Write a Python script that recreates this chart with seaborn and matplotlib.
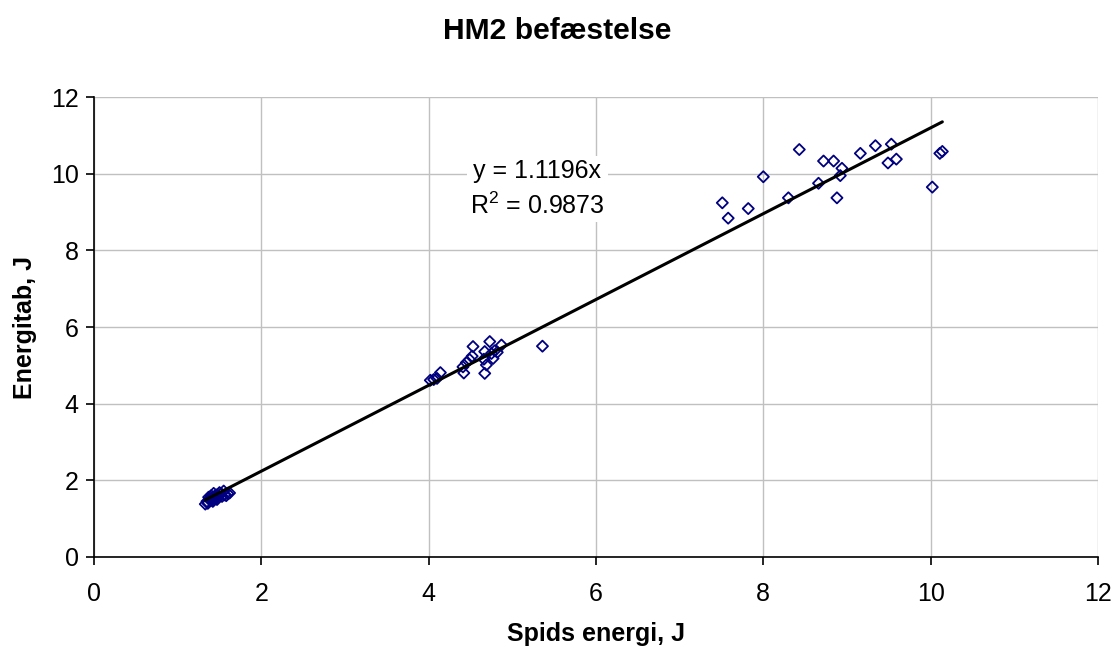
import matplotlib
matplotlib.use("Agg")
import matplotlib.pyplot as plt
import numpy as np
import pandas as pd
import seaborn as sns

sns.set_style("ticks")
plt.rcParams['font.family'] = ['Liberation Sans', 'DejaVu Sans']
plt.rcParams['text.color'] = 'black'
plt.rcParams['axes.labelcolor'] = 'black'
plt.rcParams['xtick.color'] = 'black'
plt.rcParams['ytick.color'] = 'black'
plt.rcParams['mathtext.fontset'] = 'custom'
plt.rcParams['mathtext.rm'] = 'Liberation Sans'

# Data (Spids energi, J vs Energitab, J)
x_low = [1.33, 1.35, 1.36, 1.38, 1.39, 1.40, 1.41, 1.42, 1.43, 1.44, 1.45, 1.46, 1.47,
         1.48, 1.50, 1.52, 1.53, 1.55, 1.56, 1.58, 1.60, 1.62, 1.37, 1.42, 1.47]
y_low = [1.38, 1.45, 1.40, 1.52, 1.47, 1.60, 1.55, 1.48, 1.66, 1.58, 1.52, 1.62, 1.55,
         1.60, 1.68, 1.65, 1.58, 1.72, 1.62, 1.60, 1.65, 1.67, 1.56, 1.45, 1.50]
x_mid = [4.02, 4.06, 4.10, 4.14, 4.42, 4.41, 4.45, 4.49, 4.52, 4.53, 4.67, 4.69, 4.66,
         4.67, 4.73, 4.75, 4.77, 4.79, 4.82, 4.87, 5.36]
y_mid = [4.61, 4.63, 4.66, 4.81, 4.80, 4.96, 5.07, 5.15, 5.24, 5.49, 4.79, 5.01, 5.16,
         5.36, 5.62, 5.31, 5.18, 5.38, 5.34, 5.53, 5.50]
x_high = [7.51, 7.58, 7.82, 8.00, 8.30, 8.43, 8.66, 8.72, 8.84, 8.88, 8.92, 8.94, 9.16,
          9.34, 9.49, 9.53, 9.59, 10.02, 10.11, 10.14]
y_high = [9.24, 8.84, 9.09, 9.92, 9.37, 10.63, 9.75, 10.33, 10.33, 9.37, 9.95, 10.14, 10.53,
          10.73, 10.28, 10.77, 10.38, 9.65, 10.53, 10.58]

slope = 1.1196
r2 = 0.9873

df = pd.DataFrame({'x': x_low + x_mid + x_high, 'y': y_low + y_mid + y_high})

fig = plt.figure(figsize=(11.14, 6.46), dpi=100)
ax = fig.add_axes([0.0844, 0.1378, 0.9012, 0.712])

sns.scatterplot(data=df, x='x', y='y', ax=ax, marker='D', s=32,
                facecolor='none', edgecolor='#000080', linewidth=1.3, zorder=3)

# trend line through origin, drawn over the data range
xl = np.array([df['x'].min(), df['x'].max()])
sns.lineplot(x=xl, y=slope * xl, ax=ax, color='black', linewidth=2.2, zorder=4)

ax.text(5.30, 9.60, f"y = {slope}x\nR$^2$ = {r2}", ha='center', va='center',
        fontsize=18, multialignment='center', linespacing=1.45,
        bbox=dict(facecolor='white', edgecolor='none', pad=2), zorder=5)

ax.set_xlim(0, 12)
ax.set_ylim(0, 12)
ax.set_xticks(range(0, 13, 2))
ax.set_yticks(range(0, 13, 2))
ax.grid(True, color='#c0c0c0', linewidth=1)
ax.set_axisbelow(True)
for s in ['top', 'right']:
    ax.spines[s].set_visible(False)
for s in ['left', 'bottom']:
    ax.spines[s].set_color('black')
    ax.spines[s].set_linewidth(1.2)
ax.tick_params(axis='both', labelsize=18, length=6, width=1.2, color='black')
ax.tick_params(axis='x', pad=12)
ax.tick_params(axis='y', pad=5)

ax.set_xlabel('Spids energi, J', fontsize=18, fontweight='bold')
ax.set_ylabel('Energitab, J', fontsize=18, fontweight='bold')
ax.xaxis.set_label_coords(0.5, -0.141)
ax.yaxis.set_label_coords(-0.057, 0.5)
fig.suptitle('HM2 befæstelse', fontsize=21.6, fontweight='bold', x=0.5, y=0.973, va='top')

plt.savefig('out.png', dpi=100)
